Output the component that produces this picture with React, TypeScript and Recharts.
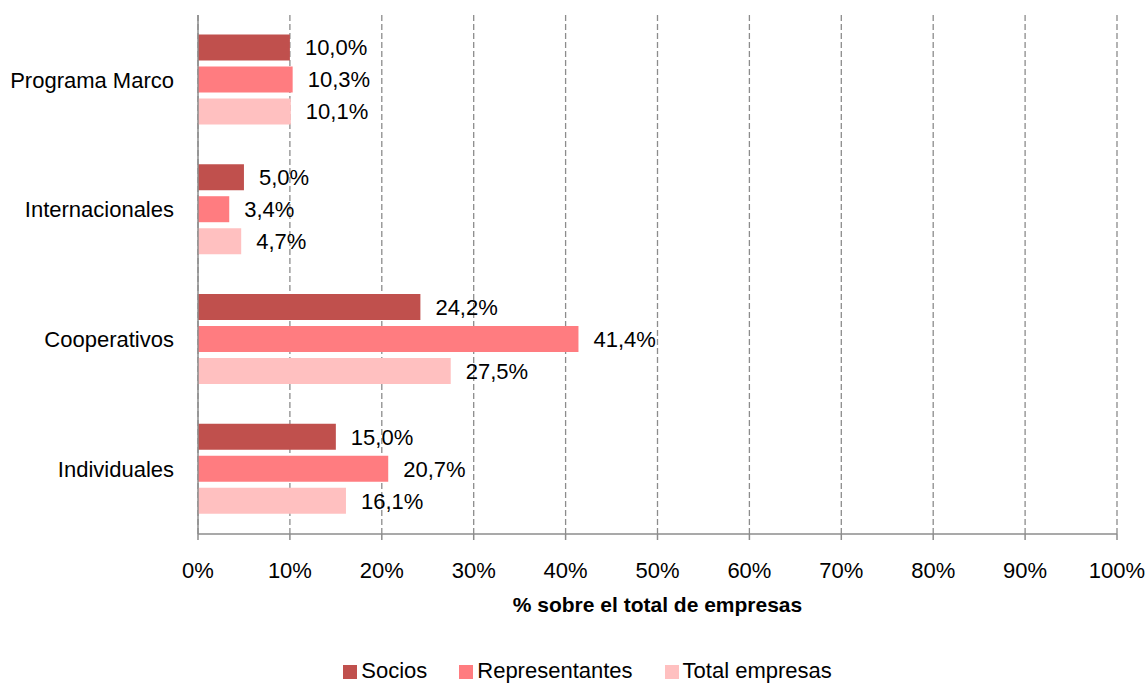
import { BarChart, Bar, XAxis, YAxis, CartesianGrid, Legend, LabelList } from "recharts";

const categories = ["Programa Marco", "Internacionales", "Cooperativos", "Individuales"];
const socios = [10.0, 5.0, 24.2, 15.0];
const representantes = [10.3, 3.4, 41.4, 20.7];
const totalEmpresas = [10.1, 4.7, 27.5, 16.1];
const xTicks = [0, 10, 20, 30, 40, 50, 60, 70, 80, 90, 100];
const seriesOrder = ["Socios", "Representantes", "Total empresas"];

const FONT = '"Liberation Sans Narrow", "Arial Narrow", "Liberation Sans", Arial, sans-serif';

const data = categories.map((name, i) => ({
  name,
  socios: socios[i],
  representantes: representantes[i],
  total: totalEmpresas[i],
}));

const fmt = (v: number) => v.toFixed(1).replace(".", ",") + "%";

const App = () => {
  return (
    <div style={{ position: "absolute", left: 0, top: 0, fontFamily: FONT }}>
      <BarChart
        width={1146}
        height={688}
        data={data}
        layout="vertical"
        margin={{ top: 15, right: 29, left: 10, bottom: 4 }}
        barCategoryGap="15%"
        barGap={6}
      >
        <CartesianGrid horizontal={false} stroke="#8c8c8c" strokeDasharray="6 3" strokeWidth={1.3} />
        <XAxis
          type="number"
          domain={[0, 100]}
          ticks={xTicks}
          tickFormatter={(v: number) => `${v}%`}
          axisLine={{ stroke: "#8c8c8c", strokeWidth: 1.5 }}
          tickLine={{ stroke: "#8c8c8c", strokeWidth: 1.5 }}
          tickSize={6}
          tickMargin={22}
          tick={{ fill: "#000", fontSize: 22, fontFamily: FONT }}
          height={124}
          label={{
            value: "% sobre el total de empresas",
            position: "insideTop",
            offset: 63,
            fill: "#000",
            fontSize: 21,
            fontWeight: "bold",
            fontFamily: FONT,
          }}
        />
        <YAxis
          type="category"
          dataKey="name"
          width={188}
          axisLine={{ stroke: "#8c8c8c", strokeWidth: 1.5 }}
          tickLine={false}
          tickSize={0}
          tickMargin={24}
          tick={{ fill: "#000", fontSize: 22, fontFamily: FONT }}
        />
        <Legend
          verticalAlign="bottom"
          align="center"
          iconType="square"
          iconSize={14}
          itemSorter={(item: { value: string }) => seriesOrder.indexOf(item.value)}
          wrapperStyle={{ fontSize: 22, fontFamily: FONT, paddingLeft: 40 }}
          formatter={(value: string) => <span style={{ color: "#000", marginRight: 22 }}>{value}</span>}
        />
        <Bar dataKey="socios" name="Socios" fill="#C0504D" isAnimationActive={false}>
          <LabelList dataKey="socios" position="right" offset={15} formatter={fmt} fill="#000" fontSize={22} fontFamily={FONT} />
        </Bar>
        <Bar dataKey="representantes" name="Representantes" fill="#FF7C80" isAnimationActive={false}>
          <LabelList dataKey="representantes" position="right" offset={15} formatter={fmt} fill="#000" fontSize={22} fontFamily={FONT} />
        </Bar>
        <Bar dataKey="total" name="Total empresas" fill="#FFC0C0" isAnimationActive={false}>
          <LabelList dataKey="total" position="right" offset={15} formatter={fmt} fill="#000" fontSize={22} fontFamily={FONT} />
        </Bar>
      </BarChart>
    </div>
  );
};

export default App;
